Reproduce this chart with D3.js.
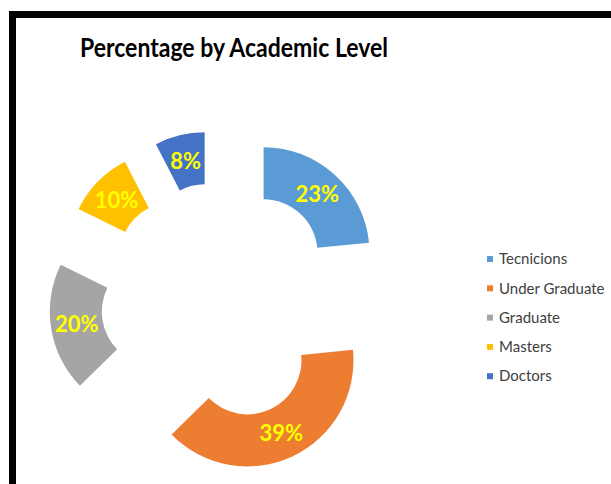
<!DOCTYPE html>
<html>
<head>
<meta charset="utf-8">
<script src="https://cdn.jsdelivr.net/npm/d3@7"></script>
<style>
  body { margin: 0; background: #fff; }
  svg { display: block; }
</style>
</head>
<body>
<svg id="chart"></svg>
<script>
const width = 611;
const height = 484;

// data (slice angles), labels show rounded values
const levels = ["Tecnicions", "Under Graduate", "Graduate", "Masters", "Doctors"];
const shares = [23.4, 39.3, 19.6, 10.1, 7.6];
const colours = ["#5B9BD5", "#ED7D31", "#A5A5A5", "#FFC000", "#4472C4"];

const svg = d3.select("#chart")
  .attr("width", width)
  .attr("height", height);

// black frame, only top and left sides are visible
svg.append("path")
  .attr("d", "M12.5,484 L12.5,14.5 L611,14.5")
  .attr("fill", "none")
  .attr("stroke", "#000")
  .attr("stroke-width", 7);

// title
svg.append("text")
  .attr("x", 80)
  .attr("y", 57)
  .attr("textLength", 308)
  .attr("lengthAdjust", "spacingAndGlyphs")
  .style("font-family", "Lato, 'Open Sans', sans-serif")
  .style("font-weight", "bold")
  .style("font-size", "26px")
  .attr("fill", "#000")
  .text("Percentage by Academic Level");

var centre = { x: 220, y: 301.5 };
var outerR = 106;
var innerR = 54;
var explode = 65;

var pie = d3.pie().sort(null).value(function(d) { return d; });
var arc = d3.arc().innerRadius(innerR).outerRadius(outerR);
var color = d3.scaleOrdinal().domain(levels).range(colours);

var slices = pie(shares);

var graph = svg.append("g")
  .attr("transform", "translate(" + centre.x + "," + centre.y + ")");

var part = graph.selectAll("g.slice")
  .data(slices)
  .enter().append("g")
    .attr("class", "slice")
    .attr("transform", function(d) {
      var mid = (d.startAngle + d.endAngle) / 2;
      return "translate(" + (Math.sin(mid) * explode) + "," + (-Math.cos(mid) * explode) + ")";
    });

part.append("path")
  .attr("d", arc)
  .attr("fill", function(d, i) { return color(levels[i]); });

part.append("text")
  .attr("transform", function(d) { return "translate(" + arc.centroid(d) + ")"; })
  .attr("text-anchor", "middle")
  .attr("dy", "0.36em")
  .style("font-family", "Lato, 'Open Sans', sans-serif")
  .style("font-weight", "bold")
  .style("font-size", "22px")
  .attr("fill", "#FFFF00")
  .text(function(d) { return Math.round(d.data) + "%"; });

// legend
var legend = svg.append("g")
  .attr("transform", "translate(487,259)");

var item = legend.selectAll("g")
  .data(levels)
  .enter().append("g")
    .attr("transform", function(d, i) { return "translate(0," + (i * 29.3) + ")"; });

item.append("rect")
  .attr("x", 0)
  .attr("y", -3)
  .attr("width", 6)
  .attr("height", 6)
  .attr("fill", function(d) { return color(d); });

item.append("text")
  .attr("x", 12)
  .attr("dy", "0.35em")
  .style("font-family", "Lato, 'Open Sans', sans-serif")
  .style("font-size", "15px")
  .attr("fill", "#404040")
  .text(function(d) { return d; });
</script>
</body>
</html>
